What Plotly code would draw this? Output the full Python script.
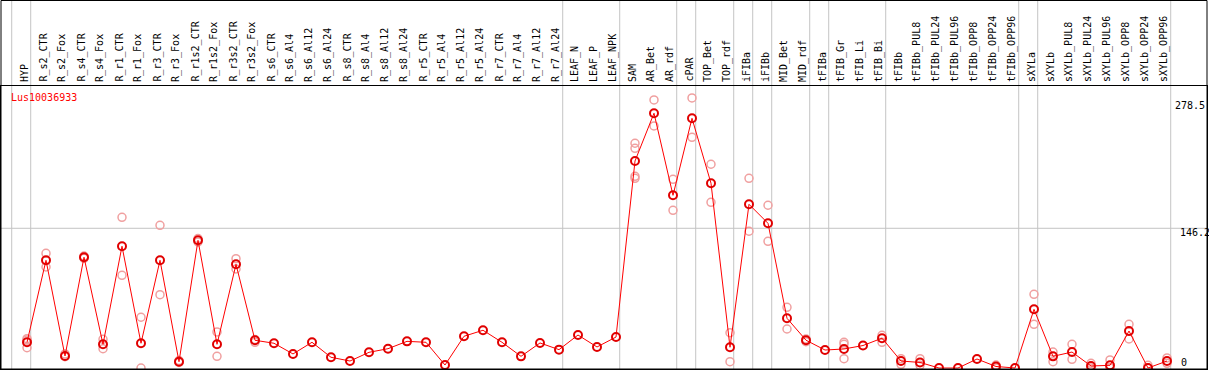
import plotly.graph_objects as go

categories = ["HYP", "R_s2_CTR", "R_s2_Fox", "R_s4_CTR", "R_s4_Fox", "R_r1_CTR", "R_r1_Fox",
              "R_r3_CTR", "R_r3_Fox", "R_r1s2_CTR", "R_r1s2_Fox", "R_r3s2_CTR", "R_r3s2_Fox",
              "R_s6_CTR", "R_s6_Al4", "R_s6_Al12", "R_s6_Al24", "R_s8_CTR", "R_s8_Al4",
              "R_s8_Al12", "R_s8_Al24", "R_r5_CTR", "R_r5_Al4", "R_r5_Al12", "R_r5_Al24",
              "R_r7_CTR", "R_r7_Al4", "R_r7_Al12", "R_r7_Al24", "LEAF_N", "LEAF_P", "LEAF_NPK",
              "SAM", "AR_Bet", "AR_rdf", "cPAR", "TOP_Bet", "TOP_rdf", "iFIBa", "iFIBb",
              "MID_Bet", "MID_rdf", "tFIBa", "tFIB_Gr", "tFIB_Li", "tFIB_Bi", "tFIBb",
              "tFIBb_PUL8", "tFIBb_PUL24", "tFIBb_PUL96", "tFIBb_OPP8", "tFIBb_OPP24",
              "tFIBb_OPP96", "sXYLa", "sXYLb", "sXYLb_PUL8", "sXYLb_PUL24", "sXYLb_PUL96",
              "sXYLb_OPP8", "sXYLb_OPP24", "sXYLb_OPP96"]

mean_values = [26.9, 112.7, 12.6, 115.9, 24.8, 127.4, 25.9, 112.7, 6.6, 133.6, 24.8, 108.5, 29.0,
               25.9, 14.7, 26.9, 11.2, 7.3, 16.4, 20.2, 27.9, 26.9, 3.1, 33.2, 39.5,
               26.9, 12.2, 26.2, 19.2, 34.5, 22.0, 32.4,
               216.6, 266.6, 180.7, 261.3, 193.3, 21.7, 171.3, 151.4,
               52.0, 29.1, 18.8, 19.9, 23.5, 31.2, 7.3,
               5.8, 0.0, 0.0, 9.4, 1.6, 0.0,
               61.4, 12.2, 16.7, 2.1, 2.8, 38.7, 0.0, 7.3]

rep_categories = ["HYP", "HYP", "HYP", "R_s2_CTR", "R_s2_CTR", "R_s2_Fox", "R_s2_Fox",
                  "R_s4_CTR", "R_s4_CTR", "R_s4_Fox", "R_s4_Fox", "R_r1_CTR", "R_r1_CTR",
                  "R_r1_Fox", "R_r1_Fox", "R_r3_CTR", "R_r3_CTR", "R_r3_Fox", "R_r3_Fox",
                  "R_r1s2_CTR", "R_r1s2_CTR", "R_r1s2_Fox", "R_r1s2_Fox",
                  "R_r3s2_CTR", "R_r3s2_CTR", "R_r3s2_Fox", "R_r3s2_Fox",
                  "SAM", "SAM", "SAM", "SAM", "AR_Bet", "AR_Bet", "AR_rdf", "AR_rdf",
                  "cPAR", "cPAR", "TOP_Bet", "TOP_Bet", "TOP_rdf", "TOP_rdf",
                  "iFIBa", "iFIBa", "iFIBb", "iFIBb", "MID_Bet", "MID_Bet", "MID_rdf", "MID_rdf",
                  "tFIB_Gr", "tFIB_Gr", "tFIB_Gr", "tFIB_Bi", "tFIB_Bi", "tFIBb", "tFIBb",
                  "tFIBb_PUL8", "tFIBb_PUL8", "tFIBb_OPP24", "tFIBb_OPP24",
                  "sXYLa", "sXYLa", "sXYLb", "sXYLb", "sXYLb_PUL8", "sXYLb_PUL8",
                  "sXYLb_PUL24", "sXYLb_PUL24", "sXYLb_PUL96", "sXYLb_PUL96",
                  "sXYLb_OPP8", "sXYLb_OPP8", "sXYLb_OPP24", "sXYLb_OPP24",
                  "sXYLb_OPP96", "sXYLb_OPP96"]
rep_values = [30.7, 29.3, 21.2, 120.0, 105.7, 14.7, 11.8,
              117.2, 114.8, 30.0, 20.2, 157.7, 97.0,
              53.1, 0.0, 149.3, 76.7, 7.8, 5.8,
              135.5, 131.9, 37.7, 12.2,
              114.4, 103.6, 29.8, 26.9,
              235.2, 229.9, 200.6, 198.5, 280.5, 253.3, 197.5, 165.0,
              282.6, 241.4, 213.2, 173.4, 36.9, 6.6,
              198.5, 143.1, 170.3, 132.6, 63.5, 40.8, 30.4, 27.5,
              26.9, 24.8, 9.7, 34.2, 26.9, 9.7, 3.9,
              9.7, 2.8, 3.1, 0.0,
              77.1, 45.7, 16.7, 6.6, 24.8, 9.1,
              4.9, 0.0, 8.4, 0.0,
              45.7, 30.4, 2.8, 0.0,
              10.5, 4.9]

separator_after = [-1, 0, 28, 31, 34, 35, 37, 38, 39, 41, 42, 45, 52, 53, 60]
gene_name = "Lus10036933"
y_ticks = [278.5, 146.2, 0]
y_tick_text = ["278.5", "146.2", "0"]

W, H = 1209, 370
ML, MR, MT, MB = 1, 2, 86, 1
plot_w = W - ML - MR
plot_h = H - MT - MB
X0 = -26 / 19.0
X1 = X0 + plot_w / 19.0
Y0, Y1 = -1.05, 295.1

idx = {c: i for i, c in enumerate(categories)}
xs = list(range(len(categories)))
rep_x = [idx[c] for c in rep_categories]

fig = go.Figure()
fig.add_trace(go.Scatter(x=rep_x, y=rep_values, mode="markers",
                         marker=dict(symbol="circle-open", size=8, color="#F0A0A0",
                                     line=dict(width=1.5, color="#F0A0A0")),
                         hoverinfo="skip", showlegend=False))
fig.add_trace(go.Scatter(x=xs, y=mean_values, mode="lines+markers",
                         line=dict(color="#FF0000", width=1),
                         marker=dict(symbol="circle-open", size=8, color="#E00000",
                                     line=dict(width=2, color="#E00000")),
                         text=categories, showlegend=False))

def px_to_paper_x(px):
    return (px - ML) / plot_w

def data_to_paper_x(v):
    return (v - X0) / (X1 - X0)

top_paper = (plot_h + MT - 0.5) / plot_h

shapes = []
for i in separator_after:
    xp = data_to_paper_x(i + 0.195)
    shapes.append(dict(type="line", xref="paper", yref="paper", x0=xp, x1=xp, y0=0, y1=top_paper,
                       line=dict(color="#C4C4C4", width=1), layer="below"))
shapes.append(dict(type="line", xref="paper", yref="y", x0=0, x1=1, y0=146.2, y1=146.2,
                   line=dict(color="#C4C4C4", width=1), layer="below"))
shapes.append(dict(type="rect", xref="paper", yref="paper", x0=0, x1=1, y0=0, y1=top_paper,
                   line=dict(color="black", width=1)))

annotations = []
for i, c in enumerate(categories):
    annotations.append(dict(x=i, y=1, xref="x", yref="paper", text=c, textangle=-90,
                            showarrow=False, xanchor="center", yanchor="bottom",
                            xshift=-3, yshift=2,
                            font=dict(family="DejaVu Sans Mono", size=10, color="black")))
annotations.append(dict(x=px_to_paper_x(9), y=(H - MB - 97) / plot_h, xref="paper", yref="paper",
                        text=gene_name, showarrow=False, xanchor="left", yanchor="middle",
                        font=dict(family="DejaVu Sans Mono", size=10, color="red")))
tick_left_px = [1173, 1178, 1179]
tick_shift = [-4, -4, 6]
for v, t, lp, sh in zip(y_ticks, y_tick_text, tick_left_px, tick_shift):
    annotations.append(dict(x=px_to_paper_x(lp), y=v, xref="paper", yref="y", text=t,
                            showarrow=False, xanchor="left", yanchor="middle", yshift=sh,
                            font=dict(family="DejaVu Sans Mono", size=10, color="black")))

fig.update_layout(
    width=W, height=H,
    margin=dict(l=ML, r=MR, t=MT, b=MB, pad=0),
    plot_bgcolor="white", paper_bgcolor="white",
    xaxis=dict(range=[X0, X1], showgrid=False, zeroline=False, showticklabels=False,
               showline=True, mirror=True, linecolor="black", linewidth=1, ticks=""),
    yaxis=dict(range=[Y0, Y1], showgrid=False, zeroline=False, showticklabels=False,
               showline=True, mirror=True, linecolor="black", linewidth=1, ticks=""),
    shapes=shapes, annotations=annotations, showlegend=False,
)

fig.write_html("out.html", config={"displayModeBar": False},
               post_script="document.body.style.margin='0';document.body.style.overflow='hidden';")
